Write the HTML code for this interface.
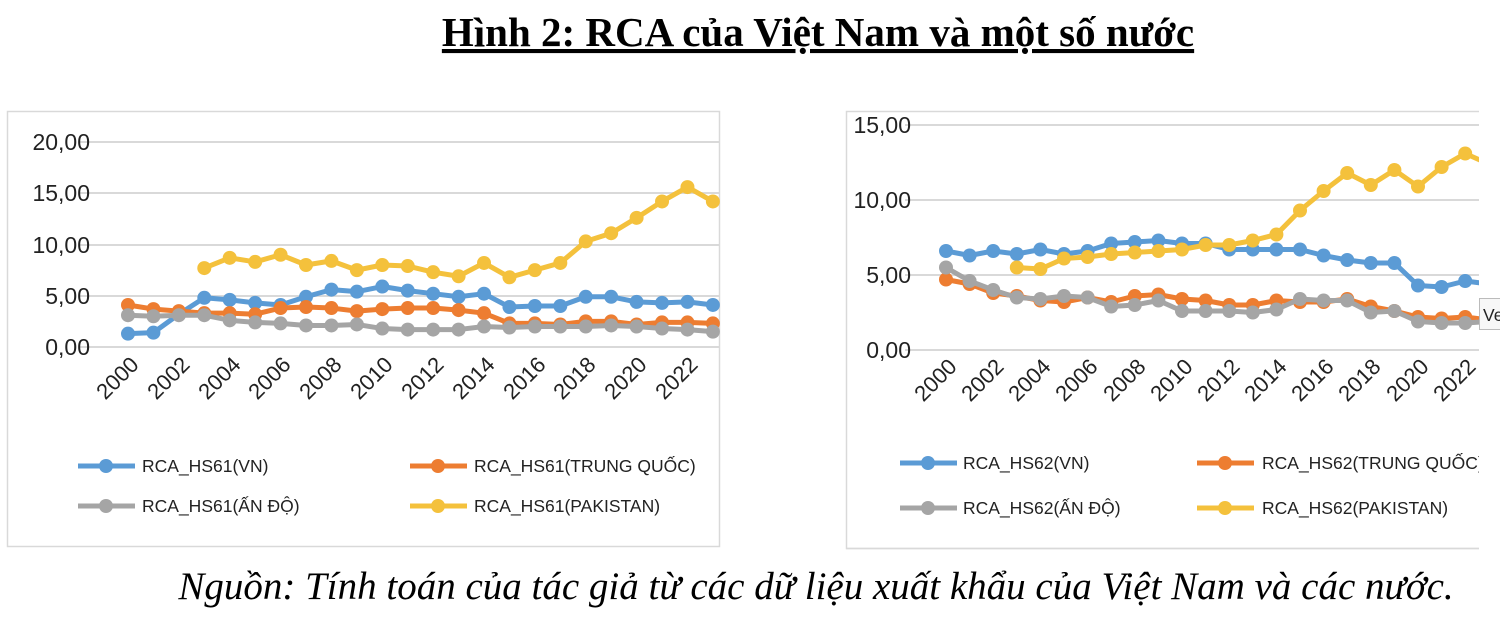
<!DOCTYPE html>
<html><head><meta charset="utf-8"><style>
html,body{margin:0;padding:0;background:#fff;width:1500px;height:617px;overflow:hidden}
svg{position:absolute;left:0;top:0}
.t{font-family:"Liberation Sans",sans-serif;font-size:23px;fill:#222}
.x{font-family:"Liberation Sans",sans-serif;font-size:22px;fill:#222}
.l{font-family:"Liberation Sans",sans-serif;font-size:17.5px;fill:#222}
</style></head><body>
<svg width="1500" height="617" xmlns="http://www.w3.org/2000/svg">
<text x="818" y="46" text-anchor="middle" font-family="Liberation Serif,serif" font-weight="bold" font-size="41" fill="#000" text-decoration="underline">Hình 2: RCA của Việt Nam và một số nước</text>
<!-- left frame -->
<rect x="7.5" y="111.5" width="712" height="435" fill="none" stroke="#d9d9d9" stroke-width="1.5"/>
<g stroke="#d9d9d9" stroke-width="2">
<line x1="80" x2="720" y1="142" y2="142"/><line x1="80" x2="720" y1="193" y2="193"/>
<line x1="80" x2="720" y1="245" y2="245"/><line x1="80" x2="720" y1="296" y2="296"/>
<line x1="80" x2="720" y1="347" y2="347"/></g>
<g class="t" text-anchor="end">
<text x="90" y="150">20,00</text><text x="90" y="201">15,00</text><text x="90" y="253">10,00</text>
<text x="90" y="304">5,00</text><text x="90" y="355">0,00</text></g>
<g class="x" text-anchor="end">
<text transform="translate(140,366) rotate(-45)">2000</text>
<text transform="translate(191,366) rotate(-45)">2002</text>
<text transform="translate(242,366) rotate(-45)">2004</text>
<text transform="translate(292,366) rotate(-45)">2006</text>
<text transform="translate(343,366) rotate(-45)">2008</text>
<text transform="translate(394,366) rotate(-45)">2010</text>
<text transform="translate(445,366) rotate(-45)">2012</text>
<text transform="translate(496,366) rotate(-45)">2014</text>
<text transform="translate(547,366) rotate(-45)">2016</text>
<text transform="translate(597,366) rotate(-45)">2018</text>
<text transform="translate(648,366) rotate(-45)">2020</text>
<text transform="translate(699,366) rotate(-45)">2022</text>
</g>
<g id="L"></g>
<g class="l">
<text x="142" y="472">RCA_HS61(VN)</text><text x="474" y="472">RCA_HS61(TRUNG QUỐC)</text>
<text x="142" y="512">RCA_HS61(ẤN ĐỘ)</text><text x="474" y="512">RCA_HS61(PAKISTAN)</text></g>
<!-- right frame -->
<rect x="846.5" y="111.5" width="640" height="437" fill="none" stroke="#d9d9d9" stroke-width="1.5"/>
<g stroke="#d9d9d9" stroke-width="2">
<line x1="905" x2="1479" y1="125" y2="125"/><line x1="905" x2="1479" y1="200" y2="200"/>
<line x1="905" x2="1479" y1="275" y2="275"/><line x1="905" x2="1479" y1="350" y2="350"/></g>
<g class="t" text-anchor="end">
<text x="911" y="133">15,00</text><text x="911" y="208">10,00</text>
<text x="911" y="283">5,00</text><text x="911" y="358">0,00</text></g>
<g class="x" text-anchor="end">
<text transform="translate(958,368) rotate(-45)">2000</text>
<text transform="translate(1005,368) rotate(-45)">2002</text>
<text transform="translate(1052,368) rotate(-45)">2004</text>
<text transform="translate(1099,368) rotate(-45)">2006</text>
<text transform="translate(1147,368) rotate(-45)">2008</text>
<text transform="translate(1194,368) rotate(-45)">2010</text>
<text transform="translate(1241,368) rotate(-45)">2012</text>
<text transform="translate(1288,368) rotate(-45)">2014</text>
<text transform="translate(1335,368) rotate(-45)">2016</text>
<text transform="translate(1382,368) rotate(-45)">2018</text>
<text transform="translate(1430,368) rotate(-45)">2020</text>
<text transform="translate(1477,368) rotate(-45)">2022</text>
</g>
<g id="R"></g>
<g class="l">
<text x="963" y="469">RCA_HS62(VN)</text><text x="1262" y="469">RCA_HS62(TRUNG QUỐC)</text>
<text x="963" y="514">RCA_HS62(ẤN ĐỘ)</text><text x="1262" y="514">RCA_HS62(PAKISTAN)</text></g>
<rect x="1479" y="0" width="21" height="617" fill="#fff"/>
<line x1="846" x2="1479" y1="548.5" y2="548.5" stroke="#d9d9d9" stroke-width="1.5"/>
<rect x="1479.5" y="298.5" width="25" height="31" fill="#f7f7f7" stroke="#bbb"/>
<text x="1483" y="321" class="l" font-size="17">Ve</text>
<text x="816" y="599" text-anchor="middle" font-family="Liberation Serif,serif" font-style="italic" font-size="39" fill="#000">Nguồn: Tính toán của tác giả từ các dữ liệu xuất khẩu của Việt Nam và các nước.</text>
</svg>
<script>
var C=['#5b9bd5','#ed7d31','#a5a5a5','#f4c13c'];
var Ld=[[1.3,1.4,3.2,4.8,4.6,4.3,4.1,4.9,5.6,5.4,5.9,5.5,5.2,4.9,5.2,3.9,4.0,4.0,4.9,4.9,4.4,4.3,4.4,4.1],
[4.1,3.7,3.5,3.3,3.3,3.2,3.8,3.9,3.8,3.5,3.7,3.8,3.8,3.6,3.3,2.3,2.3,2.2,2.5,2.5,2.2,2.4,2.4,2.3],
[3.1,3.0,3.1,3.1,2.6,2.4,2.3,2.1,2.1,2.2,1.8,1.7,1.7,1.7,2.0,1.9,2.0,2.0,2.0,2.1,2.0,1.8,1.7,1.5],
[null,null,null,7.7,8.7,8.3,9.0,8.0,8.4,7.5,8.0,7.9,7.3,6.9,8.2,6.8,7.5,8.2,10.3,11.1,12.6,14.2,15.6,14.2]];
var Rd=[[6.6,6.3,6.6,6.4,6.7,6.4,6.6,7.1,7.2,7.3,7.1,7.1,6.7,6.7,6.7,6.7,6.3,6.0,5.8,5.8,4.3,4.2,4.6,4.4],
[4.7,4.4,3.8,3.6,3.3,3.2,3.5,3.2,3.6,3.7,3.4,3.3,3.0,3.0,3.3,3.2,3.2,3.4,2.9,2.6,2.2,2.1,2.2,2.0],
[5.5,4.6,4.0,3.5,3.4,3.6,3.5,2.9,3.0,3.3,2.6,2.6,2.6,2.5,2.7,3.4,3.3,3.3,2.5,2.6,1.9,1.8,1.8,1.9],
[null,null,null,5.5,5.4,6.1,6.2,6.4,6.5,6.6,6.7,7.0,7.0,7.3,7.7,9.3,10.6,11.8,11.0,12.0,10.9,12.2,13.1,12.4]];
function draw(id,D,x0,dx,y0,sy,leg){var g=document.getElementById(id),h='';
D.forEach(function(s,k){var p=[];s.forEach(function(v,i){if(v!=null)p.push([x0+i*dx,y0-v*sy]);});
h+='<polyline fill="none" stroke="'+C[k]+'" stroke-width="5" stroke-linejoin="round" points="'+p.map(function(q){return q.join(',')}).join(' ')+'"/>';
p.forEach(function(q){h+='<circle cx="'+q[0]+'" cy="'+q[1]+'" r="7" fill="'+C[k]+'"/>';});});
leg.forEach(function(L,k){h+='<line x1="'+L[0]+'" x2="'+(L[0]+57)+'" y1="'+L[1]+'" y2="'+L[1]+'" stroke="'+C[k]+'" stroke-width="5"/><circle cx="'+(L[0]+28)+'" cy="'+L[1]+'" r="7" fill="'+C[k]+'"/>';});
g.innerHTML=h;}
draw('L',Ld,128,25.43,347,10.25,[[78,466],[410,466],[78,506],[410,506]]);
draw('R',Rd,946,23.6,350,15,[[900,463],[1197,463],[900,508],[1197,508]]);
</script>
</body></html>
